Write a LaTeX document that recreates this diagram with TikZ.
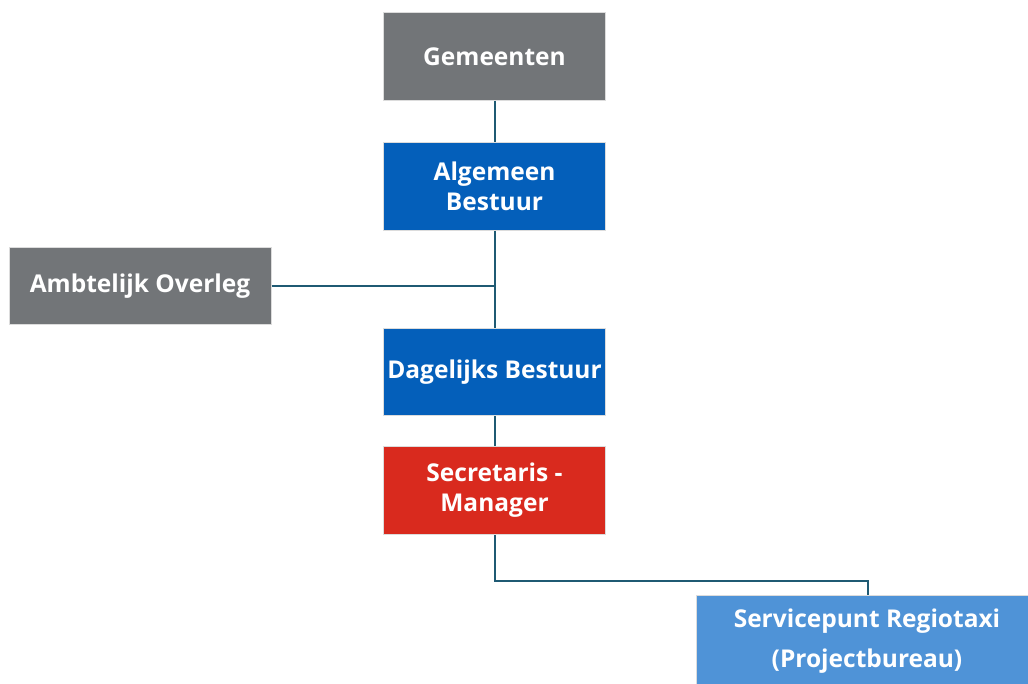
\documentclass[tikz,border=0pt]{standalone}
\usepackage{fontspec}
\setmainfont{Open Sans}
\definecolor{boxgray}{HTML}{727578}
\definecolor{boxblue}{HTML}{045FBA}
\definecolor{boxred}{HTML}{D92A1E}
\definecolor{boxlight}{HTML}{4F93D7}
\definecolor{linecol}{HTML}{1F5A73}
\definecolor{edgecol}{HTML}{DCDCDC}
\begin{document}
\begin{tikzpicture}[x=1pt,y=-1pt,
  orgbox/.style={draw=edgecol,line width=1pt,inner sep=0pt,align=center,text=white,
    font=\fontsize{24.5}{30}\selectfont\bfseries},
  conn/.style={draw=linecol,line width=2pt}]
\useasboundingbox (0,0) rectangle (1028,684);
\node[orgbox,fill=boxgray,minimum width=222pt,minimum height=88pt] (gem) at (494.5,56.5) {Gemeenten};
\node[orgbox,fill=boxblue,minimum width=222pt,minimum height=88pt] (ab) at (494.5,186.5) {Algemeen\\Bestuur};
\node[orgbox,fill=boxgray,minimum width=262pt,minimum height=77pt] (ao) at (140,286) {Ambtelijk Overleg};
\node[orgbox,fill=boxblue,minimum width=222pt,minimum height=87pt] (db) at (494.5,372) {Dagelijks Bestuur};
\node[orgbox,fill=boxred,minimum width=222pt,minimum height=88pt] (sm) at (494.5,490.5) {Secretaris -\\Manager};
\node[orgbox,fill=boxlight,minimum width=334pt,minimum height=92pt,anchor=north west,
  font=\fontsize{24.5}{40}\selectfont\bfseries] (sp) at (696,595) {};
\node[text=white,font=\fontsize{24.5}{40}\selectfont\bfseries,align=center,inner sep=0pt] (sptext) at (867,641) {Servicepunt Regiotaxi\\(Projectbureau)};
\coordinate (j1) at (494.5,286);
\coordinate (k1) at (494.5,581);
\coordinate (k2) at (868,581);
\draw[conn] (gem.south) -- (ab.north);
\draw[conn] (ab.south) -- (db.north);
\draw[conn] (ao.east) -- (j1);
\draw[conn] (db.south) -- (sm.north);
\draw[conn] (sm.south) -- (k1) -- (k2) -- (k2 |- sp.north);
\end{tikzpicture}
\end{document}
